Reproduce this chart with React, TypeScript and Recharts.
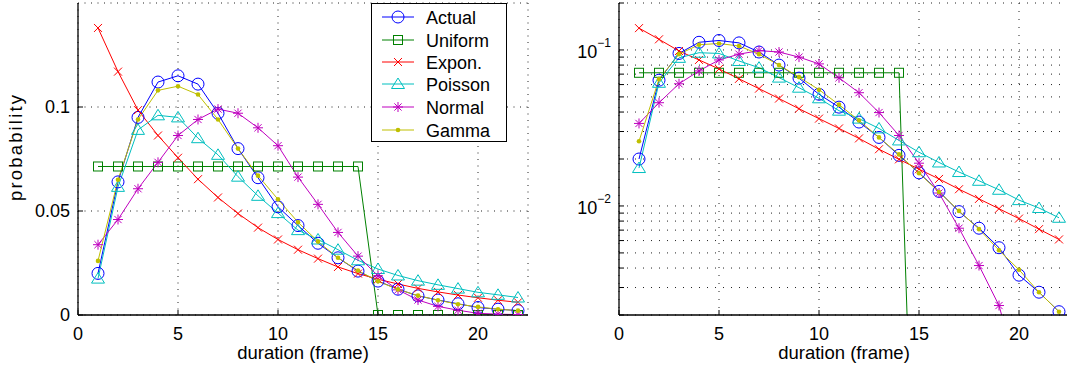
import React from 'react';
import { LineChart, Line, XAxis, YAxis, CartesianGrid } from 'recharts';

const FONT = '"Liberation Sans", Arial, Helvetica, sans-serif';

// ---- data ----
const durations = [1, 2, 3, 4, 5, 6, 7, 8, 9, 10, 11, 12, 13, 14, 15, 16, 17, 18, 19, 20, 21, 22];
const actual = [0.02, 0.064, 0.095, 0.112, 0.115, 0.111, 0.097, 0.08, 0.066, 0.052, 0.043, 0.0345, 0.0275, 0.0211, 0.0163, 0.0124, 0.0092, 0.0072, 0.0054, 0.0036, 0.0028, 0.0021];
const uniform = [0.0714, 0.0714, 0.0714, 0.0714, 0.0714, 0.0714, 0.0714, 0.0714, 0.0714, 0.0714, 0.0714, 0.0714, 0.0714, 0.0714, 0, 0, 0, 0, 0, 0, 0, 0];
const expon = [0.138, 0.117, 0.0985, 0.0863, 0.0756, 0.0653, 0.0565, 0.0488, 0.042, 0.0363, 0.0314, 0.0271, 0.0231, 0.0199, 0.0172, 0.0149, 0.0128, 0.0111, 0.0096, 0.0083, 0.0071, 0.0061];
const poisson = [0.0175, 0.0616, 0.089, 0.096, 0.095, 0.085, 0.077, 0.0665, 0.0573, 0.049, 0.0408, 0.0363, 0.0314, 0.0263, 0.0221, 0.019, 0.0165, 0.0145, 0.0127, 0.0109, 0.0097, 0.0084];
const normal = [0.0338, 0.0459, 0.0607, 0.0734, 0.0863, 0.094, 0.099, 0.097, 0.09, 0.0814, 0.0663, 0.0532, 0.0397, 0.0283, 0.0188, 0.0121, 0.0072, 0.00415, 0.0023, 0.0008, 0.0004, 0.0002];
const gamma = [0.026, 0.065, 0.094, 0.108, 0.11, 0.106, 0.094, 0.08, 0.067, 0.0556, 0.0446, 0.0353, 0.0275, 0.0214, 0.0162, 0.0123, 0.0093, 0.0071, 0.0052, 0.0039, 0.0028, 0.0021];

const xTicks = [0, 5, 10, 15, 20];
const linearTicks = [0, 0.05, 0.1];
const logTicks = [0.002, 0.003, 0.004, 0.005, 0.006, 0.007, 0.008, 0.009, 0.01, 0.02, 0.03, 0.04, 0.05, 0.06, 0.07, 0.08, 0.09, 0.1, 0.2];
const logLabels = [
  { value: 0.01, exp: '\u22122' },
  { value: 0.1, exp: '\u22121' },
];
const xLabel = 'duration (frame)';
const yLabel = 'probability';

type MarkerKind = 'circle' | 'square' | 'cross' | 'triangle' | 'star' | 'dot';

const series: { key: string; name: string; values: number[]; color: string; marker: MarkerKind }[] = [
  { key: 'actual', name: 'Actual', values: actual, color: '#0000ff', marker: 'circle' },
  { key: 'uniform', name: 'Uniform', values: uniform, color: '#008000', marker: 'square' },
  { key: 'expon', name: 'Expon.', values: expon, color: '#ff0000', marker: 'cross' },
  { key: 'poisson', name: 'Poisson', values: poisson, color: '#00bfbf', marker: 'triangle' },
  { key: 'normal', name: 'Normal', values: normal, color: '#bf00bf', marker: 'star' },
  { key: 'gamma', name: 'Gamma', values: gamma, color: '#bfbf00', marker: 'dot' },
];

const linearData = durations.map((d, i) => {
  const row: Record<string, number> = { d };
  series.forEach((s) => (row[s.key] = s.values[i]));
  return row;
});
// zero cannot be drawn on a log axis: push it far below the visible range
const logData = durations.map((d, i) => {
  const row: Record<string, number> = { d };
  series.forEach((s) => (row[s.key] = s.values[i] > 0 ? s.values[i] : 1e-5));
  return row;
});

function Marker({ kind, cx, cy, color }: { kind: MarkerKind; cx: number; cy: number; color: string }) {
  const sw = 1;
  switch (kind) {
    case 'circle':
      return <circle cx={cx} cy={cy} r={6} fill="none" stroke={color} strokeWidth={sw} />;
    case 'square':
      return <rect x={cx - 4.5} y={cy - 4.5} width={9} height={9} fill="none" stroke={color} strokeWidth={sw} />;
    case 'cross':
      return (
        <g stroke={color} strokeWidth={sw}>
          <line x1={cx - 4} y1={cy - 4} x2={cx + 4} y2={cy + 4} />
          <line x1={cx - 4} y1={cy + 4} x2={cx + 4} y2={cy - 4} />
        </g>
      );
    case 'triangle':
      return (
        <polygon
          points={`${cx},${cy - 6} ${cx - 6.5},${cy + 4.5} ${cx + 6.5},${cy + 4.5}`}
          fill="none"
          stroke={color}
          strokeWidth={sw}
        />
      );
    case 'star':
      return (
        <g stroke={color} strokeWidth={sw}>
          <line x1={cx - 5} y1={cy} x2={cx + 5} y2={cy} />
          <line x1={cx} y1={cy - 5} x2={cx} y2={cy + 5} />
          <line x1={cx - 3.6} y1={cy - 3.6} x2={cx + 3.6} y2={cy + 3.6} />
          <line x1={cx - 3.6} y1={cy + 3.6} x2={cx + 3.6} y2={cy - 3.6} />
        </g>
      );
    default:
      return <circle cx={cx} cy={cy} r={2.3} fill={color} stroke="none" />;
  }
}

const tickStyle = { fill: '#000', fontSize: 18, fontFamily: FONT };

function LogTick(p: any) {
  const v = p.payload?.value;
  const lab = logLabels.find((l) => Math.abs(l.value - v) < 1e-9);
  if (!lab) return <g />;
  return (
    <text x={p.x} y={p.y + 8} textAnchor="end" fill="#000" fontSize={18} fontFamily={FONT}>
      10
      <tspan dy={-11} fontSize={12}>
        {lab.exp}
      </tspan>
    </text>
  );
}

function Panel({ log }: { log: boolean }) {
  const data = log ? logData : linearData;
  const yDomain: [number, number] = log ? [0.002, 0.2] : [0, 0.15];
  const yTicks = log ? logTicks : linearTicks;
  return (
    <LineChart width={540} height={372} data={data} margin={{ top: 3, right: 12, left: 0, bottom: 0 }}>
      <CartesianGrid stroke="#222" strokeDasharray={log ? '1 7' : '1 5.5'} strokeWidth={1} />
      <XAxis
        dataKey="d"
        type="number"
        domain={[0, 22.5]}
        ticks={xTicks}
        interval={0}
        height={57}
        allowDataOverflow
        tickSize={-5}
        tickMargin={17}
        axisLine={{ stroke: '#000', strokeWidth: 1.3 }}
        tickLine={{ stroke: '#000' }}
        tick={tickStyle}
      />
      <XAxis
        xAxisId="top"
        orientation="top"
        type="number"
        domain={[0, 22.5]}
        ticks={xTicks}
        interval={0}
        height={0}
        allowDataOverflow
        tickSize={-5}
        tick={false}
        axisLine={{ stroke: '#000', strokeWidth: 1.3 }}
        tickLine={{ stroke: '#000' }}
      />
      <YAxis
        type="number"
        scale={log ? 'log' : 'linear'}
        domain={yDomain}
        ticks={yTicks}
        interval={0}
        width={78}
        allowDataOverflow
        tickSize={-5}
        tickMargin={13}
        axisLine={{ stroke: '#000', strokeWidth: 1.3 }}
        tickLine={{ stroke: '#000' }}
        tick={log ? <LogTick /> : tickStyle}
      />
      <YAxis
        yAxisId="right"
        orientation="right"
        type="number"
        scale={log ? 'log' : 'linear'}
        domain={yDomain}
        ticks={yTicks}
        interval={0}
        width={0}
        allowDataOverflow
        tickSize={-5}
        tick={false}
        axisLine={{ stroke: '#000', strokeWidth: 1.3 }}
        tickLine={{ stroke: '#000' }}
      />
      {series.map((s) => (
        <Line
          key={s.key}
          dataKey={s.key}
          name={s.name}
          stroke={s.color}
          strokeWidth={1}
          isAnimationActive={false}
          dot={(p: any) => {
            const k = `${s.key}-${p.index}`;
            if (!Number.isFinite(p.cx) || !Number.isFinite(p.cy)) return <g key={k} />;
            return (
              <g key={k}>
                <Marker kind={s.marker} cx={p.cx} cy={p.cy} color={s.color} />
              </g>
            );
          }}
          activeDot={false}
        />
      ))}
    </LineChart>
  );
}

function Titles() {
  return (
    <svg width={1067} height={372} style={{ position: 'absolute', left: 0, top: 0, pointerEvents: 'none' }}>
      <text x={303} y={359} textAnchor="middle" fill="#000" fontSize={18.5} fontFamily={FONT}>
        {xLabel}
      </text>
      <text x={844} y={359} textAnchor="middle" fill="#000" fontSize={18.5} fontFamily={FONT}>
        {xLabel}
      </text>
      <text
        transform="translate(22,148) rotate(-90)"
        textAnchor="middle"
        fill="#000"
        fontSize={18.5}
        fontFamily={FONT}
        textLength={106}
        lengthAdjust="spacing"
      >
        {yLabel}
      </text>
    </svg>
  );
}

function LegendBox() {
  const rowY = [13, 36, 58, 80, 103, 126];
  return (
    <div
      style={{
        position: 'absolute',
        left: 371,
        top: 3,
        width: 136,
        height: 139,
        boxSizing: 'border-box',
        border: '1.3px solid #000',
        background: '#fff',
      }}
    >
      <svg width={134} height={137} style={{ display: 'block' }}>
        {series.map((s, i) => (
          <g key={s.key}>
            <line x1={10} x2={42} y1={rowY[i]} y2={rowY[i]} stroke={s.color} strokeWidth={1} />
            <Marker kind={s.marker} cx={26} cy={rowY[i]} color={s.color} />
            <text x={54} y={rowY[i] + 6.5} fontSize={18} fontFamily={FONT} fill="#000">
              {s.name}
            </text>
          </g>
        ))}
      </svg>
    </div>
  );
}

export default function App() {
  return (
    <div
      style={{
        position: 'absolute',
        left: 0,
        top: 0,
        width: 1067,
        height: 372,
        overflow: 'hidden',
        background: '#fff',
      }}
    >
      <div style={{ position: 'absolute', left: 0, top: 0 }}>
        <Panel log={false} />
      </div>
      <div style={{ position: 'absolute', left: 541, top: 0 }}>
        <Panel log={true} />
      </div>
      <Titles />
      <LegendBox />
    </div>
  );
}
